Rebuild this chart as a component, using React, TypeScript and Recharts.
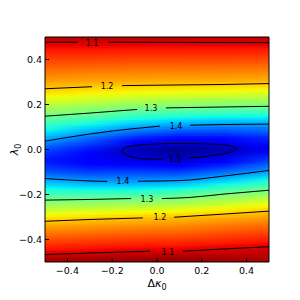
import React from 'react'
import { ScatterChart, Scatter, XAxis, YAxis, ReferenceArea, ReferenceDot } from 'recharts'

const xTicks = [-0.4, -0.2, 0, 0.2, 0.4]
const yTicks = [-0.4, -0.2, 0, 0.2, 0.4]

// colour field: value at each λ row, one array per Δκ column
const kappaCols = [-0.5, -0.3, -0.1, 0.1, 0.3, 0.5]
const lambdaRows = [0.5, 0.45, 0.4, 0.35, 0.3, 0.25, 0.2, 0.15, 0.1, 0.05, 0, -0.05, -0.1, -0.15, -0.2, -0.25, -0.3, -0.35, -0.4, -0.45, -0.5]
const zAtM05 = [1.088, 1.113, 1.137, 1.161, 1.185, 1.216, 1.257, 1.298, 1.343, 1.388, 1.435, 1.46, 1.43, 1.378, 1.326, 1.273, 1.22, 1.179, 1.145, 1.111, 1.075]
const zAtM03 = [1.088, 1.113, 1.138, 1.164, 1.189, 1.224, 1.267, 1.313, 1.367, 1.42, 1.46, 1.478, 1.44, 1.388, 1.327, 1.269, 1.212, 1.174, 1.14, 1.107, 1.072]
const zAtM01 = [1.088, 1.114, 1.14, 1.166, 1.192, 1.232, 1.279, 1.333, 1.392, 1.452, 1.505, 1.484, 1.438, 1.39, 1.326, 1.264, 1.205, 1.169, 1.136, 1.102, 1.07]
const zAtP01 = [1.088, 1.114, 1.14, 1.167, 1.193, 1.236, 1.285, 1.343, 1.405, 1.468, 1.52, 1.494, 1.44, 1.384, 1.317, 1.257, 1.2, 1.167, 1.134, 1.101, 1.067]
const zAtP03 = [1.088, 1.114, 1.141, 1.167, 1.194, 1.239, 1.289, 1.35, 1.411, 1.464, 1.507, 1.475, 1.42, 1.36, 1.298, 1.242, 1.192, 1.159, 1.127, 1.097, 1.075]
const zAtP05 = [1.088, 1.114, 1.142, 1.169, 1.196, 1.243, 1.292, 1.351, 1.407, 1.45, 1.475, 1.44, 1.395, 1.336, 1.28, 1.226, 1.184, 1.152, 1.12, 1.095, 1.08]
const zColumns = [zAtM05, zAtM03, zAtM01, zAtP01, zAtP03, zAtP05]

// contour lines [Δκ, λ], each split where its label sits
const c11TopL = [[-0.5, 0.477], [-0.357, 0.477]]
const c11TopR = [[-0.219, 0.477], [0.103, 0.476], [0.5, 0.475]]
const c12TopL = [[-0.5, 0.27], [-0.29, 0.279]]
const c12TopR = [[-0.156, 0.284], [0.103, 0.287], [0.299, 0.289], [0.5, 0.293]]
const c13TopL = [[-0.5, 0.148], [-0.299, 0.162], [-0.089, 0.178]]
const c13TopR = [[0.04, 0.185], [0.299, 0.189], [0.5, 0.192]]
const c14TopL = [[-0.5, 0.037], [-0.299, 0.069], [-0.121, 0.091], [0.013, 0.104]]
const c14TopR = [[0.147, 0.108], [0.299, 0.111], [0.5, 0.113]]
const c15 = [[0.027, -0.043], [-0.054, -0.042], [-0.121, -0.031], [-0.156, -0.01], [-0.134, 0.011], [-0.054, 0.022], [0.08, 0.027], [0.214, 0.025], [0.317, 0.019], [0.353, 0.003], [0.326, -0.013], [0.237, -0.029], [0.143, -0.038]]
const c14BotL = [[-0.5, -0.129], [-0.299, -0.14], [-0.223, -0.142]]
const c14BotR = [[-0.085, -0.141], [0.103, -0.138], [0.299, -0.118], [0.5, -0.093]]
const c13BotL = [[-0.5, -0.225], [-0.299, -0.222], [-0.116, -0.218]]
const c13BotR = [[0.022, -0.218], [0.147, -0.213], [0.299, -0.198], [0.5, -0.181]]
const c12BotL = [[-0.5, -0.319], [-0.299, -0.311], [-0.063, -0.304]]
const c12BotR = [[0.076, -0.301], [0.299, -0.287], [0.5, -0.274]]
const c11BotL = [[-0.5, -0.467], [-0.299, -0.46], [-0.031, -0.452]]
const c11BotR = [[0.116, -0.452], [0.299, -0.442], [0.5, -0.432]]

const openLines = [c11TopL, c11TopR, c12TopL, c12TopR, c13TopL, c13TopR, c14TopL, c14TopR,
  c14BotL, c14BotR, c13BotL, c13BotR, c12BotL, c12BotR, c11BotL, c11BotR]

const labelText = ['1.1', '1.2', '1.3', '1.4', '1.5', '1.4', '1.3', '1.2', '1.1']
const labelKappa = [-0.29, -0.223, -0.027, 0.085, 0.08, -0.152, -0.045, 0.013, 0.049]
const labelLambda = [0.471, 0.28, 0.182, 0.102, -0.044, -0.142, -0.222, -0.302, -0.458]

// jet colormap (reversed below)
const jetR = [[0, 0], [0.35, 0], [0.66, 1], [0.89, 1], [1, 0.5]]
const jetG = [[0, 0], [0.125, 0], [0.375, 1], [0.64, 1], [0.91, 0], [1, 0]]
const jetB = [[0, 0.5], [0.11, 1], [0.34, 1], [0.65, 0], [1, 0]]
const Z_MIN = 1.065
const Z_MAX = 1.525

function seg(pts: number[][], t: number) {
  for (let i = 1; i < pts.length; i++) {
    if (t <= pts[i][0]) {
      const [a, va] = pts[i - 1]
      const [b, vb] = pts[i]
      return va + (vb - va) * (t - a) / (b - a)
    }
  }
  return pts[pts.length - 1][1]
}

function colour(z: number) {
  let t = (z - Z_MIN) / (Z_MAX - Z_MIN)
  t = 1 - Math.max(0, Math.min(1, t))
  const c = (v: number) => Math.round(v * 255)
  return `rgb(${c(seg(jetR, t))},${c(seg(jetG, t))},${c(seg(jetB, t))})`
}

function zAt(col: number[], lam: number) {
  for (let i = 1; i < lambdaRows.length; i++) {
    if (lam >= lambdaRows[i]) {
      const a = lambdaRows[i - 1]
      const b = lambdaRows[i]
      return col[i - 1] + (col[i] - col[i - 1]) * (lam - a) / (b - a)
    }
  }
  return col[col.length - 1]
}

const STEP = 0.01
const bands = Array.from({ length: 100 }, (_, i) => {
  const lo = -0.5 + i * STEP
  const mid = lo + STEP / 2
  return { id: `band${i}`, lo, hi: Math.min(0.5, lo + STEP * 1.6), colours: zColumns.map((col) => colour(zAt(col, mid))) }
})

const toPts = (arr: number[][]) => arr.map(([x, y]) => ({ x, y }))

const FONT = 'DejaVu Sans'
const PAD_X = 5
const PAD_Y = 3
const TL = 4
const TICK_FS = 9.5

const fmt = (v: number) => (v < -1e-9 ? '\u2212' : '') + Math.abs(v).toFixed(1)

function BottomTick(props: any) {
  const { x, y, payload } = props
  return (
    <g>
      <line x1={x} x2={x} y1={y - PAD_X} y2={y - PAD_X - TL} stroke="#000" />
      <text x={x} y={y} dy="0.71em" textAnchor="middle" fontSize={TICK_FS} fontFamily={FONT} fill="#000">{fmt(payload.value)}</text>
    </g>
  )
}

function LeftTick(props: any) {
  const { x, y, payload } = props
  return (
    <g>
      <line x1={x + PAD_Y} x2={x + PAD_Y + TL} y1={y} y2={y} stroke="#000" />
      <text x={x} y={y} dy="0.36em" textAnchor="end" fontSize={TICK_FS} fontFamily={FONT} fill="#000">{fmt(payload.value)}</text>
    </g>
  )
}

function TopTick(props: any) {
  const { x, y } = props
  return <line x1={x} x2={x} y1={y} y2={y + TL} stroke="#000" />
}

function RightTick(props: any) {
  const { x, y } = props
  return <line x1={x} x2={x - TL} y1={y} y2={y} stroke="#000" />
}

function XLabel(props: any) {
  const { viewBox } = props
  const cx = viewBox.x + viewBox.width / 2
  return (
    <text x={cx} y={viewBox.y + 25} textAnchor="middle" fontSize={11} fontFamily={FONT} fill="#000">
      Δ<tspan fontStyle="italic">κ</tspan><tspan fontSize={8} dy={3}>0</tspan>
    </text>
  )
}

function YLabel(props: any) {
  const { viewBox } = props
  const cx = 14
  const cy = viewBox.y + viewBox.height / 2
  return (
    <text x={cx} y={cy} dy="0.35em" textAnchor="middle" fontSize={11} fontFamily={FONT} fill="#000" transform={`rotate(-90 ${cx} ${cy})`}>
      <tspan fontStyle="italic">λ</tspan><tspan fontSize={8} dy={3}>0</tspan>
    </text>
  )
}

const noDot = () => <g />

export default function App() {
  return (
    <div style={{ position: 'absolute', left: 0, top: 0, background: '#fff' }}>
      <ScatterChart width={300} height={300} margin={{ top: 37, right: 31, bottom: 8, left: 5 }}>
        <defs>
          {bands.map((b) => (
            <linearGradient key={b.id} id={b.id} x1="0" y1="0" x2="1" y2="0">
              {kappaCols.map((k, j) => (
                <stop key={j} offset={k + 0.5} stopColor={b.colours[j]} />
              ))}
            </linearGradient>
          ))}
        </defs>
        <XAxis type="number" dataKey="x" domain={[-0.5, 0.5]} ticks={xTicks} allowDataOverflow
          height={30} tickSize={0} tickMargin={PAD_X} axisLine={false} tick={<BottomTick />}
          label={{ content: <XLabel /> }} />
        <XAxis xAxisId="top" orientation="top" type="number" dataKey="x" domain={[-0.5, 0.5]} ticks={xTicks}
          allowDataOverflow height={0} tickSize={0} tickMargin={0} axisLine={false} tick={<TopTick />} />
        <YAxis type="number" dataKey="y" domain={[-0.5, 0.5]} ticks={yTicks} allowDataOverflow
          width={40} tickSize={0} tickMargin={PAD_Y} axisLine={false} tick={<LeftTick />}
          label={{ content: <YLabel /> }} />
        <YAxis yAxisId="right" orientation="right" type="number" dataKey="y" domain={[-0.5, 0.5]} ticks={yTicks}
          allowDataOverflow width={0} tickSize={0} tickMargin={0} axisLine={false} tick={<RightTick />} />
        {bands.map((b) => (
          <ReferenceArea key={b.id} x1={-0.5} x2={0.5} y1={b.lo} y2={b.hi} fill={`url(#${b.id})`}
            fillOpacity={1} stroke="none" ifOverflow="visible" />
        ))}
        {openLines.map((line, i) => (
          <Scatter key={i} data={toPts(line)} line={{ stroke: '#000', strokeWidth: 1 }} lineJointType="monotoneX"
            shape={noDot} isAnimationActive={false} legendType="none" />
        ))}
        <Scatter data={toPts(c15)} line={{ stroke: '#000', strokeWidth: 1 }} lineJointType="natural"
          shape={noDot} isAnimationActive={false} legendType="none" />
        {labelText.map((t, i) => (
          <ReferenceDot key={i} x={labelKappa[i]} y={labelLambda[i]} r={0} fill="none" stroke="none"
            label={{ value: t, position: 'center', fontSize: 8, fontFamily: FONT, fill: '#000' }} />
        ))}
        <ReferenceArea x1={-0.5} x2={0.5} y1={-0.5} y2={0.5} fill="none" fillOpacity={0} stroke="#000" strokeWidth={1} ifOverflow="visible" />
      </ScatterChart>
    </div>
  )
}
